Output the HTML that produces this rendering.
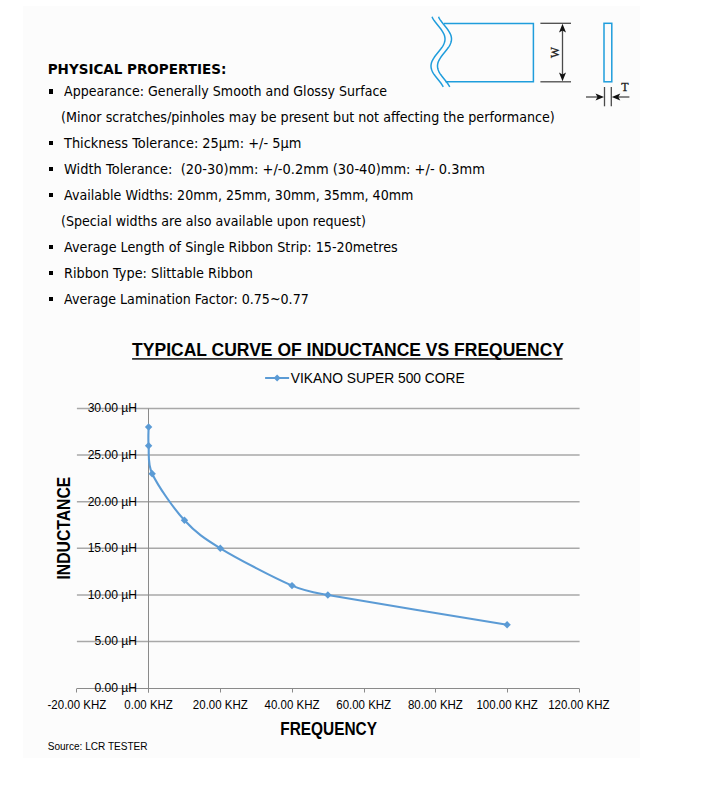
<!DOCTYPE html>
<html><head><meta charset="utf-8">
<style>
html,body{margin:0;padding:0;background:#fff;}
body{width:701px;height:800px;position:relative;overflow:hidden;}
#bg{position:absolute;left:23px;top:6px;width:617px;height:752px;background:#fcfcfc;}
.t{position:absolute;white-space:nowrap;font-family:"DejaVu Sans",sans-serif;font-size:13.3px;line-height:16px;color:#000;transform-origin:0 0;}
.b{position:absolute;width:4.5px;height:4.3px;background:#000;}
svg{position:absolute;left:0;top:0;}
.ax{font-family:"Liberation Sans",sans-serif;fill:#000;}
.lg{font-family:"Liberation Sans",sans-serif;fill:#000;}
.ti{font-family:"Liberation Sans",sans-serif;font-weight:bold;fill:#000;}
.at{font-family:"Liberation Sans",sans-serif;font-weight:bold;fill:#000;}
.src{font-family:"Liberation Sans",sans-serif;fill:#000;}
</style></head><body>
<div id="bg"></div>
<div class="t" style="left:47.70px;top:60.83px;font-size:13.5px;font-weight:bold;">PHYSICAL PROPERTIES:</div>
<div class="t" style="left:64.10px;top:84.20px;font-size:13.3px;transform:scaleX(0.9496);">Appearance: Generally Smooth and Glossy Surface</div>
<div class="b" style="left:48.7px;top:89.40px"></div>
<div class="t" style="left:60.90px;top:110.00px;font-size:13.3px;transform:scaleX(0.958);">(Minor scratches/pinholes may be present but not affecting the performance)</div>
<div class="t" style="left:64.10px;top:135.80px;font-size:13.3px;transform:scaleX(0.974);">Thickness Tolerance: 25µm: +/- 5µm</div>
<div class="b" style="left:48.7px;top:141.00px"></div>
<div class="t" style="left:64.10px;top:161.60px;font-size:13.3px;transform:scaleX(0.979);">Width Tolerance:&nbsp; (20-30)mm: +/-0.2mm (30-40)mm: +/- 0.3mm</div>
<div class="b" style="left:48.7px;top:166.80px"></div>
<div class="t" style="left:64.10px;top:187.50px;font-size:13.3px;transform:scaleX(0.953);">Available Widths: 20mm, 25mm, 30mm, 35mm, 40mm</div>
<div class="b" style="left:48.7px;top:192.70px"></div>
<div class="t" style="left:60.90px;top:213.80px;font-size:13.3px;transform:scaleX(0.954);">(Special widths are also available upon request)</div>
<div class="t" style="left:64.10px;top:240.00px;font-size:13.3px;transform:scaleX(0.962);">Average Length of Single Ribbon Strip: 15-20metres</div>
<div class="b" style="left:48.7px;top:245.20px"></div>
<div class="t" style="left:64.10px;top:266.00px;font-size:13.3px;transform:scaleX(0.968);">Ribbon Type: Slittable Ribbon</div>
<div class="b" style="left:48.7px;top:271.20px"></div>
<div class="t" style="left:64.10px;top:291.50px;font-size:13.3px;transform:scaleX(0.953);">Average Lamination Factor: 0.75~0.77</div>
<div class="b" style="left:48.7px;top:296.70px"></div>
<svg width="701" height="800" viewBox="0 0 701 800">
<!-- diagram -->
<g fill="none" stroke="#1f9ddc" stroke-width="1.5">
<path d="M432.06,16.80 L432.53,17.80 L433.08,18.80 L433.69,19.80 L434.36,20.80 L435.08,21.80 L435.84,22.80 L436.62,23.80 L437.43,24.80 L438.24,25.80 L439.05,26.80 L439.85,27.80 L440.62,28.80 L441.36,29.80 L442.05,30.80 L442.68,31.80 L443.26,32.80 L443.76,33.80 L444.18,34.80 L444.52,35.80 L444.77,36.80 L444.93,37.80 L445.00,38.80 L444.97,39.80 L444.85,40.80 L444.63,41.80 L444.33,42.80 L443.94,43.80 L443.47,44.80 L442.92,45.80 L442.31,46.80 L441.64,47.80 L440.92,48.80 L440.16,49.80 L439.38,50.80 L438.57,51.80 L437.76,52.80 L436.95,53.80 L436.15,54.80 L435.38,55.80 L434.64,56.80 L433.95,57.80 L433.32,58.80 L432.74,59.80 L432.24,60.80 L431.82,61.80 L431.48,62.80 L431.23,63.80 L431.07,64.80 L431.00,65.80 L431.03,66.80 L431.15,67.80 L431.37,68.80 L431.67,69.80 L432.06,70.80 L432.53,71.80 L433.08,72.80 L433.69,73.80 L434.36,74.80 L435.08,75.80 L435.84,76.80 L436.62,77.80 L437.43,78.80 L438.24,79.80 L439.05,80.80 L439.85,81.80 L440.62,82.80 L441.36,83.80 L442.05,84.80 L442.68,85.80 L443.26,86.80"/>
<path d="M438.56,16.80 L439.03,17.80 L439.58,18.80 L440.19,19.80 L440.86,20.80 L441.58,21.80 L442.34,22.80 L443.12,23.80 L443.93,24.80 L444.74,25.80 L445.55,26.80 L446.35,27.80 L447.12,28.80 L447.86,29.80 L448.55,30.80 L449.18,31.80 L449.76,32.80 L450.26,33.80 L450.68,34.80 L451.02,35.80 L451.27,36.80 L451.43,37.80 L451.50,38.80 L451.47,39.80 L451.35,40.80 L451.13,41.80 L450.83,42.80 L450.44,43.80 L449.97,44.80 L449.42,45.80 L448.81,46.80 L448.14,47.80 L447.42,48.80 L446.66,49.80 L445.88,50.80 L445.07,51.80 L444.26,52.80 L443.45,53.80 L442.65,54.80 L441.88,55.80 L441.14,56.80 L440.45,57.80 L439.82,58.80 L439.24,59.80 L438.74,60.80 L438.32,61.80 L437.98,62.80 L437.73,63.80 L437.57,64.80 L437.50,65.80 L437.53,66.80 L437.65,67.80 L437.87,68.80 L438.17,69.80 L438.56,70.80 L439.03,71.80 L439.58,72.80 L440.19,73.80 L440.86,74.80 L441.58,75.80 L442.34,76.80 L443.12,77.80 L443.93,78.80 L444.74,79.80 L445.55,80.80 L446.35,81.80 L447.12,82.80 L447.86,83.80 L448.55,84.80 L449.18,85.80 L449.76,86.80"/>
<polyline points="444,23.6 533.4,23.6 533.4,81.7 445.5,81.7"/>
<rect x="604" y="23.3" width="7.8" height="58.5"/>
</g>
<g stroke="#4a4a4a" stroke-width="1.3" fill="none">
<line x1="540.4" y1="23.3" x2="571" y2="23.3"/>
<line x1="540.4" y1="81.8" x2="571" y2="81.8"/>
<line x1="562.5" y1="28" x2="562.5" y2="77"/>
<line x1="604.5" y1="87" x2="604.5" y2="106.3"/>
<line x1="611.3" y1="87" x2="611.3" y2="106.3"/>
<line x1="586" y1="97" x2="600" y2="97"/>
<line x1="616" y1="97" x2="629.4" y2="97"/>
</g>
<g fill="#111">
<path d="M562.5 23.8 L559 32.5 L562.5 30.5 L566 32.5 Z"/>
<path d="M562.5 81.3 L559 72.6 L562.5 74.6 L566 72.6 Z"/>
<path d="M604 97 L595.5 93.5 L597.5 97 L595.5 100.5 Z"/>
<path d="M611.8 97 L620.3 93.5 L618.3 97 L620.3 100.5 Z"/>
</g>
<text x="0" y="0" transform="translate(558.9,57.9) rotate(-90)" font-family="Liberation Serif" font-size="11.6" fill="#1a1a1a" stroke="#1a1a1a" stroke-width="0.3">W</text>
<text x="621.3" y="91" font-family="Liberation Serif" font-size="12" fill="#1a1a1a" stroke="#1a1a1a" stroke-width="0.3">T</text>

<!-- chart -->
<g id="chart">
<line x1="76.9" y1="641.57" x2="579.6" y2="641.57" stroke="#a8a8a8" stroke-width="1.5"/>
<line x1="76.9" y1="594.93" x2="579.6" y2="594.93" stroke="#a8a8a8" stroke-width="1.5"/>
<line x1="76.9" y1="548.30" x2="579.6" y2="548.30" stroke="#a8a8a8" stroke-width="1.5"/>
<line x1="76.9" y1="501.67" x2="579.6" y2="501.67" stroke="#a8a8a8" stroke-width="1.5"/>
<line x1="76.9" y1="455.03" x2="579.6" y2="455.03" stroke="#a8a8a8" stroke-width="1.5"/>
<line x1="76.9" y1="408.40" x2="579.6" y2="408.40" stroke="#a8a8a8" stroke-width="1.5"/>
<line x1="76.9" y1="688.5" x2="579.3" y2="688.5" stroke="#8a8a8a" stroke-width="1"/>
<line x1="76.5" y1="688.5" x2="76.5" y2="692.5" stroke="#8a8a8a" stroke-width="1"/>
<line x1="148.5" y1="688.5" x2="148.5" y2="692.5" stroke="#8a8a8a" stroke-width="1"/>
<line x1="220.5" y1="688.5" x2="220.5" y2="692.5" stroke="#8a8a8a" stroke-width="1"/>
<line x1="292.5" y1="688.5" x2="292.5" y2="692.5" stroke="#8a8a8a" stroke-width="1"/>
<line x1="364.5" y1="688.5" x2="364.5" y2="692.5" stroke="#8a8a8a" stroke-width="1"/>
<line x1="435.5" y1="688.5" x2="435.5" y2="692.5" stroke="#8a8a8a" stroke-width="1"/>
<line x1="507.5" y1="688.5" x2="507.5" y2="692.5" stroke="#8a8a8a" stroke-width="1"/>
<line x1="579.5" y1="688.5" x2="579.5" y2="692.5" stroke="#8a8a8a" stroke-width="1"/>
<line x1="148.5" y1="408.5" x2="148.5" y2="692.5" stroke="#8a8a8a" stroke-width="1"/>
<text transform="translate(137.10,692.10) scale(0.995,1)" class="ax" font-size="12.2" text-anchor="end">0.00 µH</text>
<text transform="translate(137.10,645.47) scale(0.995,1)" class="ax" font-size="12.2" text-anchor="end">5.00 µH</text>
<text transform="translate(137.10,598.83) scale(0.995,1)" class="ax" font-size="12.2" text-anchor="end">10.00 µH</text>
<text transform="translate(137.10,552.20) scale(0.995,1)" class="ax" font-size="12.2" text-anchor="end">15.00 µH</text>
<text transform="translate(137.10,505.57) scale(0.995,1)" class="ax" font-size="12.2" text-anchor="end">20.00 µH</text>
<text transform="translate(137.10,458.93) scale(0.995,1)" class="ax" font-size="12.2" text-anchor="end">25.00 µH</text>
<text transform="translate(137.10,412.30) scale(0.995,1)" class="ax" font-size="12.2" text-anchor="end">30.00 µH</text>
<text transform="translate(76.90,709.30) scale(0.912,1)" class="ax" font-size="12.6" text-anchor="middle">-20.00 KHZ</text>
<text transform="translate(148.60,709.30) scale(0.912,1)" class="ax" font-size="12.6" text-anchor="middle">0.00 KHZ</text>
<text transform="translate(220.30,709.30) scale(0.912,1)" class="ax" font-size="12.6" text-anchor="middle">20.00 KHZ</text>
<text transform="translate(292.00,709.30) scale(0.912,1)" class="ax" font-size="12.6" text-anchor="middle">40.00 KHZ</text>
<text transform="translate(363.70,709.30) scale(0.912,1)" class="ax" font-size="12.6" text-anchor="middle">60.00 KHZ</text>
<text transform="translate(435.40,709.30) scale(0.912,1)" class="ax" font-size="12.6" text-anchor="middle">80.00 KHZ</text>
<text transform="translate(507.10,709.30) scale(0.912,1)" class="ax" font-size="12.6" text-anchor="middle">100.00 KHZ</text>
<text transform="translate(578.80,709.30) scale(0.912,1)" class="ax" font-size="12.6" text-anchor="middle">120.00 KHZ</text>
<path d="M148.60,427.05 C148.60,430.16 148.03,438.27 148.60,445.71 C149.20,453.48 147.30,463.52 152.19,473.69 C158.16,486.12 173.10,507.88 184.45,520.32 C195.80,532.76 204.75,538.86 220.30,548.30 C238.23,559.18 274.07,577.83 292.00,585.61 C305.59,591.50 313.27,592.28 327.85,594.93 C363.70,601.46 477.23,619.80 507.10,624.78" fill="none" stroke="#5b9bd5" stroke-width="2.1" stroke-linejoin="round"/>
<path d="M148.60,423.35 L152.30,427.05 L148.60,430.75 L144.90,427.05 Z" fill="#5b9bd5"/>
<path d="M148.60,442.01 L152.30,445.71 L148.60,449.41 L144.90,445.71 Z" fill="#5b9bd5"/>
<path d="M152.19,469.99 L155.88,473.69 L152.19,477.39 L148.49,473.69 Z" fill="#5b9bd5"/>
<path d="M184.45,516.62 L188.15,520.32 L184.45,524.02 L180.75,520.32 Z" fill="#5b9bd5"/>
<path d="M220.30,544.60 L224.00,548.30 L220.30,552.00 L216.60,548.30 Z" fill="#5b9bd5"/>
<path d="M292.00,581.91 L295.70,585.61 L292.00,589.31 L288.30,585.61 Z" fill="#5b9bd5"/>
<path d="M327.85,591.23 L331.55,594.93 L327.85,598.63 L324.15,594.93 Z" fill="#5b9bd5"/>
<path d="M507.10,621.08 L510.80,624.78 L507.10,628.48 L503.40,624.78 Z" fill="#5b9bd5"/>
<line x1="265.1" y1="378" x2="289.1" y2="378" stroke="#5b9bd5" stroke-width="2"/>
<path d="M277.1,374.5 L280.6,378 L277.1,381.5 L273.6,378 Z" fill="#5b9bd5"/>
<text transform="translate(290.80,382.70) scale(0.89,1)" class="lg" font-size="15.5">VIKANO SUPER 500 CORE</text>
<text transform="translate(132.10,355.90) scale(0.957,1)" class="ti" font-size="18.3">TYPICAL CURVE OF INDUCTANCE VS FREQUENCY</text>
<rect x="132.1" y="358.2" width="430.5" height="1.4" fill="#000"/>
<text transform="translate(280.30,734.80) scale(0.866,1)" class="at" font-size="17.8">FREQUENCY</text>
<text transform="translate(69.60,579.50) rotate(-90) scale(0.884,1)" class="at" font-size="17.8">INDUCTANCE</text>
<text transform="translate(47.70,750.00) scale(0.876,1)" class="src" font-size="11.5">Source: LCR TESTER</text>
</g>
</svg>
</body></html>
